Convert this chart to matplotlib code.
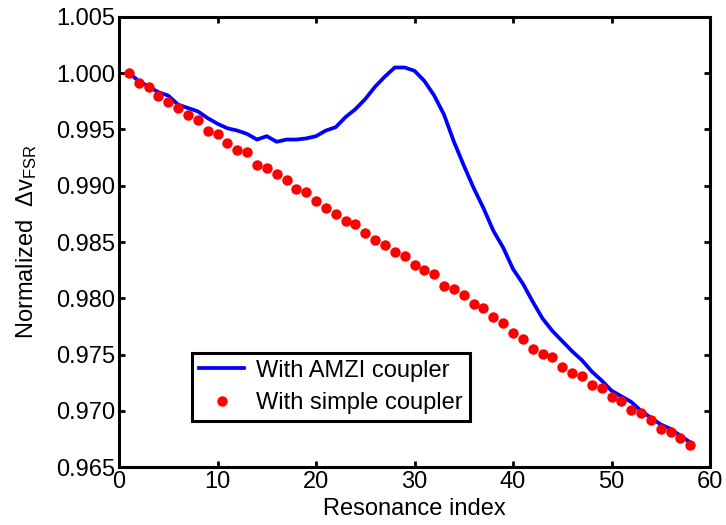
import numpy as np
import matplotlib
matplotlib.use("Agg")
import matplotlib.pyplot as plt

plt.rcParams['font.family'] = ['Liberation Sans', 'DejaVu Sans']
plt.rcParams['mathtext.default'] = 'regular'

# resonance index
idx = list(range(1, 59))

# normalized FSR, AMZI coupler (blue line)
amzi = [1.0000, 0.9993, 0.9988, 0.9983, 0.9980, 0.9972, 0.9969, 0.9966, 0.9960, 0.9955,
        0.9951, 0.9949, 0.9946, 0.9941, 0.9944, 0.9939, 0.9941, 0.9941, 0.9942, 0.9944,
        0.9949, 0.9952, 0.9961, 0.9968, 0.9977, 0.9988, 0.9997, 1.0005, 1.0005, 1.0002,
        0.9993, 0.9980, 0.9963, 0.9939, 0.9918, 0.9898, 0.9880, 0.9860, 0.9845, 0.9826,
        0.9813, 0.9797, 0.9782, 0.9771, 0.9762, 0.9753, 0.9745, 0.9735, 0.9727, 0.9718,
        0.9713, 0.9708, 0.9700, 0.9694, 0.9688, 0.9684, 0.9678, 0.9672]

# normalized FSR, simple coupler (red dots)
simple = [1.0000, 0.9991, 0.9988, 0.9980, 0.9974, 0.9969, 0.9963, 0.9958, 0.9949, 0.9946,
          0.9938, 0.9932, 0.9930, 0.9918, 0.9916, 0.9910, 0.9905, 0.9897, 0.9894, 0.9886,
          0.9880, 0.9875, 0.9869, 0.9866, 0.9858, 0.9852, 0.9847, 0.9841, 0.9838, 0.9830,
          0.9825, 0.9822, 0.9811, 0.9808, 0.9803, 0.9795, 0.9791, 0.9783, 0.9778, 0.9769,
          0.9764, 0.9755, 0.9751, 0.9748, 0.9739, 0.9734, 0.9731, 0.9723, 0.9720, 0.9712,
          0.9709, 0.9701, 0.9698, 0.9692, 0.9684, 0.9681, 0.9676, 0.9670]

xticks = [0, 10, 20, 30, 40, 50, 60]
yticks = [0.965, 0.970, 0.975, 0.980, 0.985, 0.990, 0.995, 1.000, 1.005]

fs = 17

fig = plt.figure(figsize=(7.26, 5.25), dpi=100)
ax = fig.add_axes([0.164, 0.110, 0.814, 0.858])

ax.plot(idx, amzi, color='#0000ff', lw=2.7, label='With AMZI coupler')
ax.plot(idx, simple, 'o', color='#ff0000', ms=7.5, markeredgewidth=0, label='With simple coupler')

ax.set_xlim(0, 60)
ax.set_ylim(0.965, 1.005)
ax.set_xticks(xticks)
ax.set_yticks(yticks)
ax.set_yticklabels(['%.3f' % v for v in yticks])

for s in ax.spines.values():
    s.set_linewidth(2.2)
ax.tick_params(direction='in', length=4, width=2, labelsize=fs,
               top=True, right=True, pad=3)

ax.set_xlabel('Resonance index', fontsize=fs, labelpad=3)
ax.set_ylabel('Normalized  Δv$_{FSR}$', fontsize=fs, labelpad=12)

leg = ax.legend(loc='lower left', bbox_to_anchor=(0.124, 0.102), fontsize=fs,
                fancybox=False, framealpha=1, edgecolor='black',
                borderpad=0.3, labelspacing=0.45, handlelength=1.9,
                handletextpad=0.5, borderaxespad=0)
leg.get_frame().set_linewidth(2.2)

fig.savefig('out.png', dpi=100)
